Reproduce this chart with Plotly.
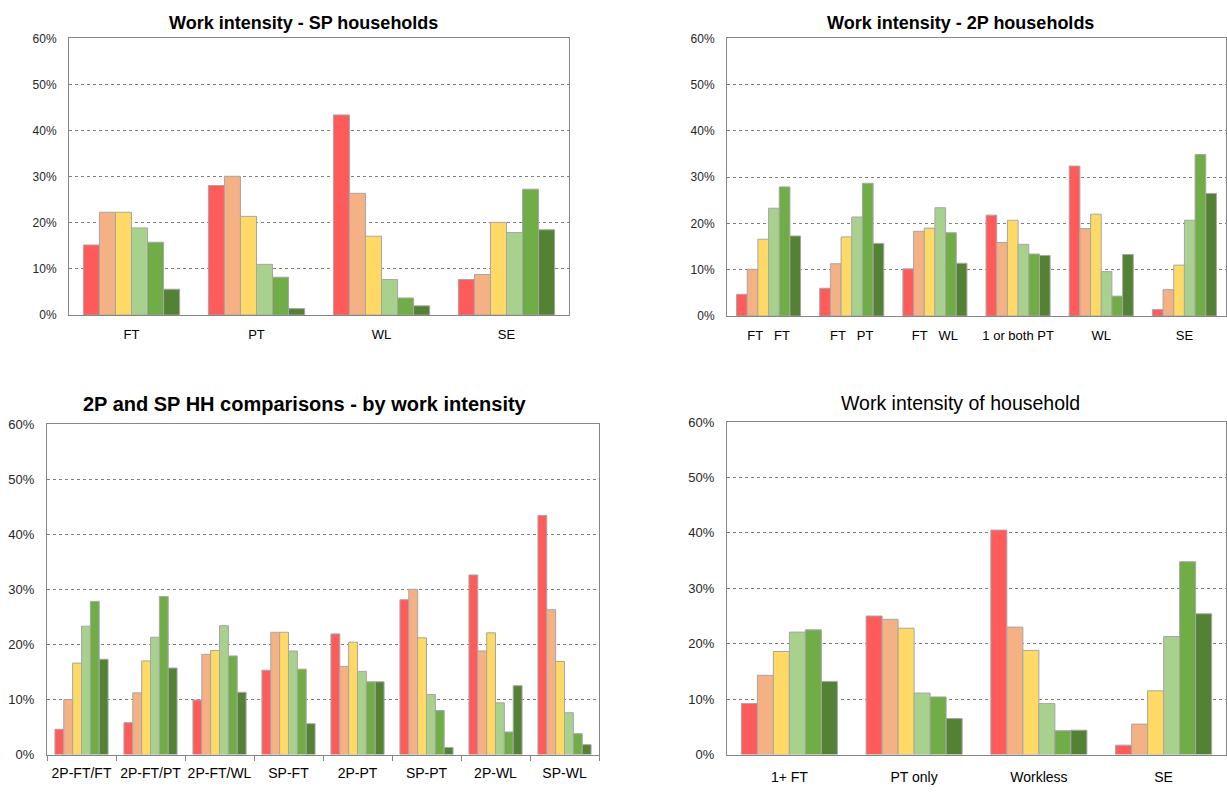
import plotly.graph_objects as go

# ---------------- data ----------------
series_names = ["Group 1", "Group 2", "Group 3", "Group 4", "Group 5", "Group 6"]
series_colors = ["#FF5B5B", "#F4B183", "#FFD966", "#A9D18E", "#70AD47", "#548235"]

# Chart 1: Work intensity - SP households
sp_categories = ["FT", "PT", "WL", "SE"]
sp_s1 = [15.2, 28.1, 43.4, 7.7]
sp_s2 = [22.3, 30.1, 26.4, 8.8]
sp_s3 = [22.3, 21.4, 17.1, 20.1]
sp_s4 = [18.9, 11.0, 7.7, 17.9]
sp_s5 = [15.8, 8.2, 3.7, 27.3]
sp_s6 = [5.6, 1.4, 2.0, 18.5]

# Chart 2: Work intensity - 2P households
tp_categories = ["FT\u00a0\u00a0\u00a0FT", "FT\u00a0\u00a0\u00a0PT", "FT\u00a0\u00a0\u00a0WL",
                 "1 or both PT", "WL", "SE"]
tp_s1 = [4.7, 6.0, 10.2, 21.8, 32.4, 1.4]
tp_s2 = [10.1, 11.3, 18.3, 15.9, 18.9, 5.7]
tp_s3 = [16.6, 17.1, 19.0, 20.7, 22.0, 11.0]
tp_s4 = [23.3, 21.4, 23.4, 15.5, 9.6, 20.7]
tp_s5 = [27.9, 28.7, 18.0, 13.4, 4.3, 34.9]
tp_s6 = [17.3, 15.7, 11.4, 13.1, 13.3, 26.5]

# Chart 3: 2P and SP HH comparisons - by work intensity
cmp_categories = ["2P-FT/FT", "2P-FT/PT", "2P-FT/WL", "SP-FT", "2P-PT", "SP-PT", "2P-WL", "SP-WL"]
cmp_s1 = [4.6, 5.8, 9.9, 15.3, 21.9, 28.1, 32.6, 43.4]
cmp_s2 = [10.0, 11.2, 18.2, 22.2, 16.0, 30.0, 18.8, 26.3]
cmp_s3 = [16.6, 17.0, 18.9, 22.2, 20.4, 21.2, 22.1, 16.9]
cmp_s4 = [23.3, 21.3, 23.4, 18.8, 15.1, 10.9, 9.4, 7.6]
cmp_s5 = [27.8, 28.7, 17.9, 15.5, 13.2, 8.0, 4.1, 3.8]
cmp_s6 = [17.3, 15.7, 11.3, 5.6, 13.2, 1.3, 12.5, 1.8]

# Chart 4: Work intensity of household
hh_categories = ["1+ FT", "PT only", "Workless", "SE"]
hh_s1 = [9.2, 25.0, 40.5, 1.7]
hh_s2 = [14.3, 24.4, 23.0, 5.5]
hh_s3 = [18.6, 22.8, 18.8, 11.5]
hh_s4 = [22.1, 11.1, 9.2, 21.3]
hh_s5 = [22.5, 10.4, 4.3, 34.8]
hh_s6 = [13.2, 6.5, 4.4, 25.4]

y_ticks = [0, 10, 20, 30, 40, 50, 60]

# ---------------- layout helpers ----------------
W, H = 1227, 793
FONT = "Liberation Sans, Arial, sans-serif"


def fx(px):
    return px / W


def fy(py):
    return 1 - py / H


charts = [
    dict(cats=sp_categories, data=[sp_s1, sp_s2, sp_s3, sp_s4, sp_s5, sp_s6],
         box=(69, 569, 32, 314), title="<b>Work intensity - SP households</b>",
         tpos=(303, 16), tsize=18, ysize=12, xsize=13, xticks=False, xstand=7),
    dict(cats=tp_categories, data=[tp_s1, tp_s2, tp_s3, tp_s4, tp_s5, tp_s6],
         box=(727, 1226, 32, 315), title="<b>Work intensity - 2P households</b>",
         tpos=(960, 16), tsize=18, ysize=12, xsize=13, xticks=False, xstand=7),
    dict(cats=cmp_categories, data=[cmp_s1, cmp_s2, cmp_s3, cmp_s4, cmp_s5, cmp_s6],
         box=(47, 599, 425, 762), title="<b>2P and SP HH comparisons - by work intensity</b>",
         tpos=(305, 405), tsize=20, ysize=13, xsize=14, xticks=True, xstand=6),
    dict(cats=hh_categories, data=[hh_s1, hh_s2, hh_s3, hh_s4, hh_s5, hh_s6],
         box=(727, 1226, 423, 762), title="Work intensity of household",
         tpos=(960, 404), tsize=19.5, ysize=13, xsize=14, xticks=False, xstand=10),
]

fig = go.Figure()
layout = {}
annotations = []

for i, ch in enumerate(charts, start=1):
    xa = "x" if i == 1 else f"x{i}"
    ya = "y" if i == 1 else f"y{i}"
    for name, color, vals in zip(series_names, series_colors, ch["data"]):
        fig.add_trace(go.Bar(
            x=ch["cats"], y=vals, name=name, xaxis=xa, yaxis=ya,
            marker=dict(color=color, line=dict(color="#A6A6A6", width=1)),
            showlegend=False,
        ))
    x0, x1, y0, y1 = ch["box"]
    xkey = "xaxis" if i == 1 else f"xaxis{i}"
    ykey = "yaxis" if i == 1 else f"yaxis{i}"
    xd = dict(
        domain=[fx(x0), fx(x1)], anchor=ya,
        showline=True, mirror=True, linecolor="#868686", linewidth=1,
        showgrid=False, zeroline=False, tickangle=0,
        tickfont=dict(family=FONT, size=ch["xsize"], color="#000000"),
        fixedrange=True,
    )
    if ch["xticks"]:
        xd.update(ticks="outside", tickson="boundaries", ticklen=5, tickcolor="#868686",
                  ticklabelstandoff=ch["xstand"])
    else:
        xd.update(ticks="", ticklabelstandoff=ch["xstand"])
    layout[xkey] = xd
    layout[ykey] = dict(
        domain=[fy(y1), fy(y0)], anchor=xa,
        range=[0, 60], tickvals=y_ticks, ticktext=[f"{v}%" for v in y_ticks],
        showline=True, mirror=True, linecolor="#868686", linewidth=1,
        showgrid=True, gridcolor="#7F7F7F", griddash="dot", gridwidth=1,
        zeroline=False, ticks="", ticklabelstandoff=9,
        tickfont=dict(family=FONT, size=ch["ysize"], color="#262626"),
        fixedrange=True,
    )
    annotations.append(dict(
        text=ch["title"], x=fx(ch["tpos"][0]), y=fy(ch["tpos"][1]),
        xref="paper", yref="paper", xanchor="center", yanchor="middle",
        showarrow=False,
        font=dict(family=FONT, size=ch["tsize"], color="#000000"),
    ))

fig.update_layout(
    width=W, height=H,
    margin=dict(l=0, r=0, t=0, b=0),
    paper_bgcolor="#FFFFFF", plot_bgcolor="#FFFFFF",
    barmode="group", bargap=0.23, bargroupgap=0,
    annotations=annotations,
    **layout,
)

fig.write_html(
    "out.html",
    config={"displayModeBar": False},
    post_script="document.body.style.margin='0';document.body.style.overflow='hidden';",
)
